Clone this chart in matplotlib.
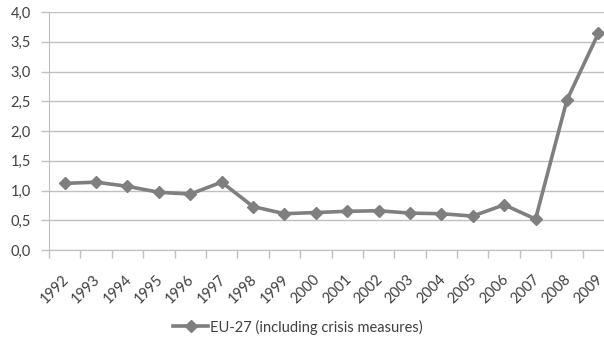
import matplotlib
matplotlib.use("Agg")
import matplotlib.pyplot as plt
import matplotlib.transforms as mtransforms
import numpy as np

years = ["1992", "1993", "1994", "1995", "1996", "1997", "1998", "1999", "2000",
         "2001", "2002", "2003", "2004", "2005", "2006", "2007", "2008", "2009"]
values = [1.12, 1.14, 1.07, 0.97, 0.94, 1.14, 0.73, 0.61, 0.63,
          0.65, 0.66, 0.62, 0.61, 0.57, 0.76, 0.52, 2.52, 3.64]
y_ticks = [0.0, 0.5, 1.0, 1.5, 2.0, 2.5, 3.0, 3.5, 4.0]
series_label = "EU-27 (including crisis measures)"

plt.rcParams["font.family"] = ["Lato", "DejaVu Sans"]
text_color = "#404040"
grid_color = "#c0c0c0"
line_color = "#7f7f7f"

fig = plt.figure(figsize=(6.04, 3.39), dpi=100)
ax = fig.add_axes([49 / 604, 1 - 250 / 339, 565 / 604, 238 / 339])

x = np.arange(len(years))
ax.plot(x, values, color=line_color, lw=2.6, marker="D", ms=6.5,
        mfc=line_color, mec=line_color, label=series_label, clip_on=False)

ax.set_xlim(-0.5, len(years) - 0.5)
ax.set_ylim(0, 4.0)
ax.set_yticks(y_ticks)
ax.set_yticklabels([f"{v:.1f}".replace(".", ",") for v in y_ticks],
                   fontsize=10.5, color=text_color)
ax.set_xticks(x)
ax.set_xticklabels(years, rotation=45, ha="right", rotation_mode="anchor",
                   fontsize=10.5, color=text_color)
ax.tick_params(axis="x", length=0, pad=16)
shift = mtransforms.ScaledTranslation(-3 / 100, 0, fig.dpi_scale_trans)
for lbl in ax.get_xticklabels():
    lbl.set_transform(lbl.get_transform() + shift)
ax.set_xticks(np.arange(-0.5, len(years) + 0.5, 1), minor=True)
ax.tick_params(axis="x", which="minor", length=6, color=grid_color, width=1)
ax.tick_params(axis="y", length=6, color=grid_color, width=1, pad=7)

ax.grid(axis="y", color=grid_color, lw=1)
ax.set_axisbelow(True)
for s in ["top", "right"]:
    ax.spines[s].set_visible(False)
ax.spines["left"].set_color(grid_color)
ax.spines["bottom"].set_color(grid_color)

fig.legend(loc="center", bbox_to_anchor=(298 / 604, 1 - 327 / 339), frameon=False,
           fontsize=10.5, labelcolor=text_color, handlelength=2.4, handletextpad=0.15,
           markerscale=1.0)

fig.savefig("out.png", dpi=100)
